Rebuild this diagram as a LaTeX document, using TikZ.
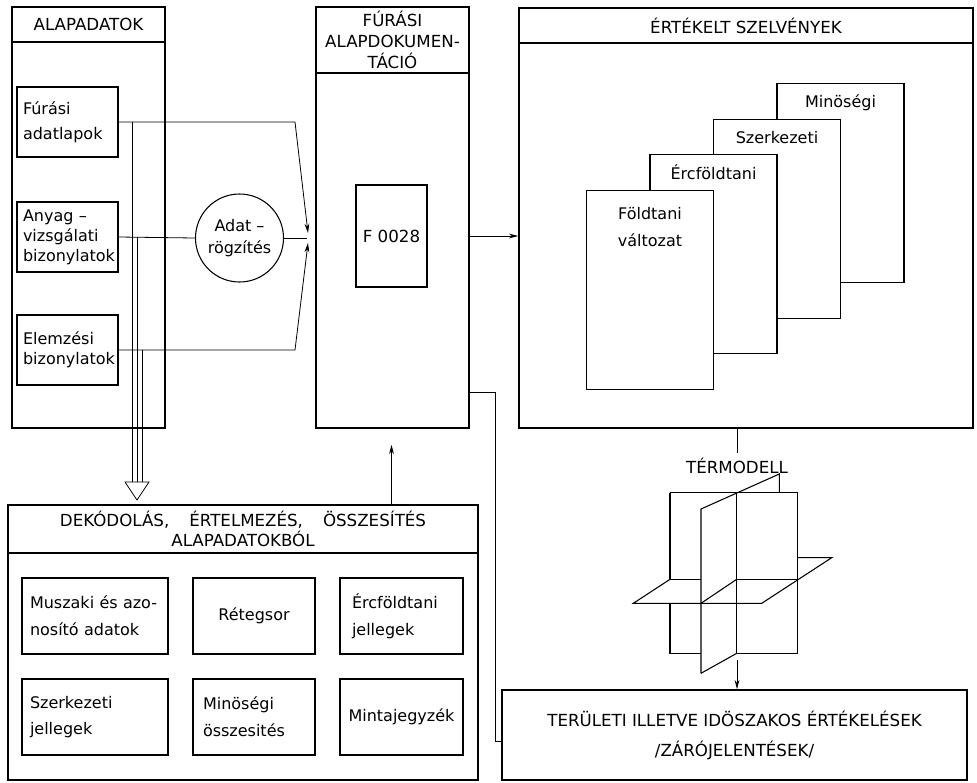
\documentclass[tikz,border=0pt]{standalone}
\usepackage{fontspec}
\setmainfont{DejaVu Sans}
\usetikzlibrary{arrows.meta,calc}
\hyphenpenalty=10000
\exhyphenpenalty=10000

\tikzset{
  panel/.style={draw, line width=1.2pt, minimum width=114.75pt, minimum height=315.75pt, inner sep=0pt},
  head/.style={draw, line width=1.2pt, inner sep=0pt, align=center, font=\fontsize{12.5}{15.5}\selectfont},
  src/.style={draw, line width=0.8pt, minimum width=75.75pt, minimum height=52.5pt, text width=66.75pt, inner xsep=4.5pt, inner ysep=0pt, align=left, font=\fontsize{12}{15}\selectfont},
  sheet/.style={draw, line width=0.8pt, fill=white, minimum width=95.25pt, minimum height=149.25pt, inner sep=0pt},
  item/.style={draw, line width=0.8pt, minimum height=57pt, inner ysep=0pt, align=left, font=\fontsize{12}{20}\selectfont},
  conn/.style={line width=0.6pt},
  arr/.style={conn, -{Stealth[length=7pt, width=3.6pt]}},
  plane/.style={line width=0.8pt, line join=miter}
}

\begin{document}
\begin{tikzpicture}[x=0.75pt,y=0.75pt,yscale=-1,xscale=1,font=\fontsize{12}{15}\selectfont]
\useasboundingbox (0,0) rectangle (977,782);

% Alapadatok
\node[panel] (alap) at (88.5,217.5) {};
\node[head, minimum width=114.75pt, minimum height=26.25pt, anchor=north] (alaphd) at (alap.north) {ALAPADATOK};
\node[src, font=\fontsize{12}{19}\selectfont] (furasi) at (67.5,122) {Fúrási\\adatlapok};
\node[src] (anyag) at (67.5,237) {Anyag –\\vizsgálati\\bizonylatok};
\node[src] (elemzesi) at (67.5,350) {Elemzési\\bizonylatok};

% Adatrogzites
\node[draw, circle, line width=0.8pt, minimum size=66pt, inner sep=0pt, align=center, font=\fontsize{12}{17}\selectfont] (adat) at (239.5,238) {Adat –\\rögzítés};
\coordinate (kink) at (295,238);
\coordinate (conv) at (307,238);
\coordinate (convA) at (308,233);
\coordinate (convB) at (308,243);
\draw[arr] (furasi.east) -- (furasi.east -| kink) -- (convA);
\draw[conn] (anyag.east) -- (adat.west);
\draw[conn] (adat.east) -- (conv);
\draw[arr] (elemzesi.east) -- (elemzesi.east -| kink) -- (convB);

% triple line to Dekodolas
\coordinate (tri) at (137,482);
\foreach \src/\dx in {furasi/-5,anyag/0,elemzesi/5}
  \draw[conn] ($(\src.east -| tri)+(\dx,0)$) -- ($(tri)+(\dx,0)$);
\draw[conn] ($(tri)+(-12,0)$) -- ($(tri)+(12,0)$) -- ($(tri)+(0,18)$) -- cycle;

% Furasi alapdokumentacio
\node[panel] (mid) at (392.5,217.5) {};
\node[head, minimum width=114.75pt, minimum height=49.5pt, anchor=north] (midhd) at (mid.north) {FÚRÁSI\\ALAPDOKUMEN-\\TÁCIÓ};
\node[draw, line width=0.8pt, minimum width=53.25pt, minimum height=76.5pt, font=\fontsize{12.5}{15}\selectfont] (f28) at (391.5,236) {F 0028};

% Ertekelt szelvenyek
\node[panel, minimum width=340.5pt, minimum height=315pt] (ert) at (746,218) {};
\node[head, minimum width=340.5pt, minimum height=26.25pt, anchor=north] (erthd) at (ert.north) {ÉRTÉKELT SZELVÉNYEK};
\foreach \i/\nm in {3/minos,2/szerk,1/ercf,0/foldt}
  \node[sheet] (\nm) at ({650+63.5*\i},{290-35.7*\i}) {};
\node[anchor=base] (minostx) at ($(minos.north)+(0,25)$) {Minöségi};
\node[anchor=base] (szerktx) at ($(szerk.north)+(0,25)$) {Szerkezeti};
\node[anchor=base] (ercftx) at ($(ercf.north)+(0,25)$) {Ércföldtani};
\node[anchor=base] (foldttx) at ($(foldt.north)+(0,30)$) {Földtani};
\node[anchor=base] (valttx) at ($(foldt.north)+(0,57)$) {változat};
\draw[arr] (mid.east |- f28) -- (ert.west |- f28);

% Termodell
\node[font=\fontsize{12.5}{15}\selectfont] (tm) at (737,466) {TÉRMODELL};
\draw[conn] (ert.south -| tm) -- (tm.north);
\draw[plane] (670,492.7) -- (797.7,492.7) -- (797.7,653.3) -- (736.7,653.3);
\draw[plane] (670,492.7) -- (670,579.3) -- (701,579.3);
\draw[plane] (670,603.3) -- (670,653.3) -- (701,653.3);
\draw[plane] (701,673.3) -- (701,509) -- (779.3,474) -- (779.3,492.7);
\draw[plane] (701,673.3) -- (736.7,653.3);
\draw[plane] (736.7,492.7) -- (736.7,653.3);
\draw[plane] (670,579.3) -- (633.3,603.3) -- (761.7,603.3) -- (831.7,557.7) -- (797.7,557.7);
\draw[plane] (736.7,579.3) -- (797.7,579.3);
\draw[plane] (701,603.3) -- (736.7,579.3);
\coordinate (tmbot) at (737,660);

% Teruleti ertekelesek
\node[draw, line width=1.2pt, minimum width=348.75pt, minimum height=67.5pt, align=center, font=\fontsize{12.5}{22.5}\selectfont] (ter) at (734.5,735) {TERÜLETI ILLETVE IDÖSZAKOS ÉRTÉKELÉSEK\\/ZÁRÓJELENTÉSEK/};
\draw[arr] (tmbot) -- (tmbot |- ter.north);
\draw[conn] ($(mid.south east)+(0,-36)$) -- ++(26,0) |- ([yshift=5pt]ter.west);

% Dekodolas
\node[panel, minimum width=352.5pt, minimum height=206.25pt] (dek) at (243,642.5) {};
\node[head, minimum width=352.5pt, minimum height=36pt, anchor=north, font=\fontsize{12.5}{15}\selectfont] (dekhd) at (dek.north) {DEKÓDOLÁS,\hspace{15pt}ÉRTELMEZÉS,\hspace{15pt}ÖSSZESÍTÉS\\ALAPADATOKBÓL};
\node[item, text width=97.5pt, inner xsep=6pt] (musz) at (95,616) {Muszaki és azo-\\nosító adatok};
\node[item, minimum width=91.5pt, align=center] (reteg) at (254,616) {Rétegsor};
\node[item, text width=74.25pt, inner xsep=9pt] (ercfj) at (401.5,616) {Ércföldtani\\jellegek};
\node[item, text width=97.5pt, inner xsep=6pt] (szerkj) at (95,717) {Szerkezeti\\jellegek};
\node[item, text width=76.5pt, inner xsep=7.5pt] (minosz) at (254,717) {Minöségi\\összesités};
\node[item, minimum width=92.25pt, align=center] (minta) at (401.5,717) {Mintajegyzék};
\draw[arr, shorten >=12pt] (dek.north -| f28) -- (mid.south -| f28);

\end{tikzpicture}
\end{document}
